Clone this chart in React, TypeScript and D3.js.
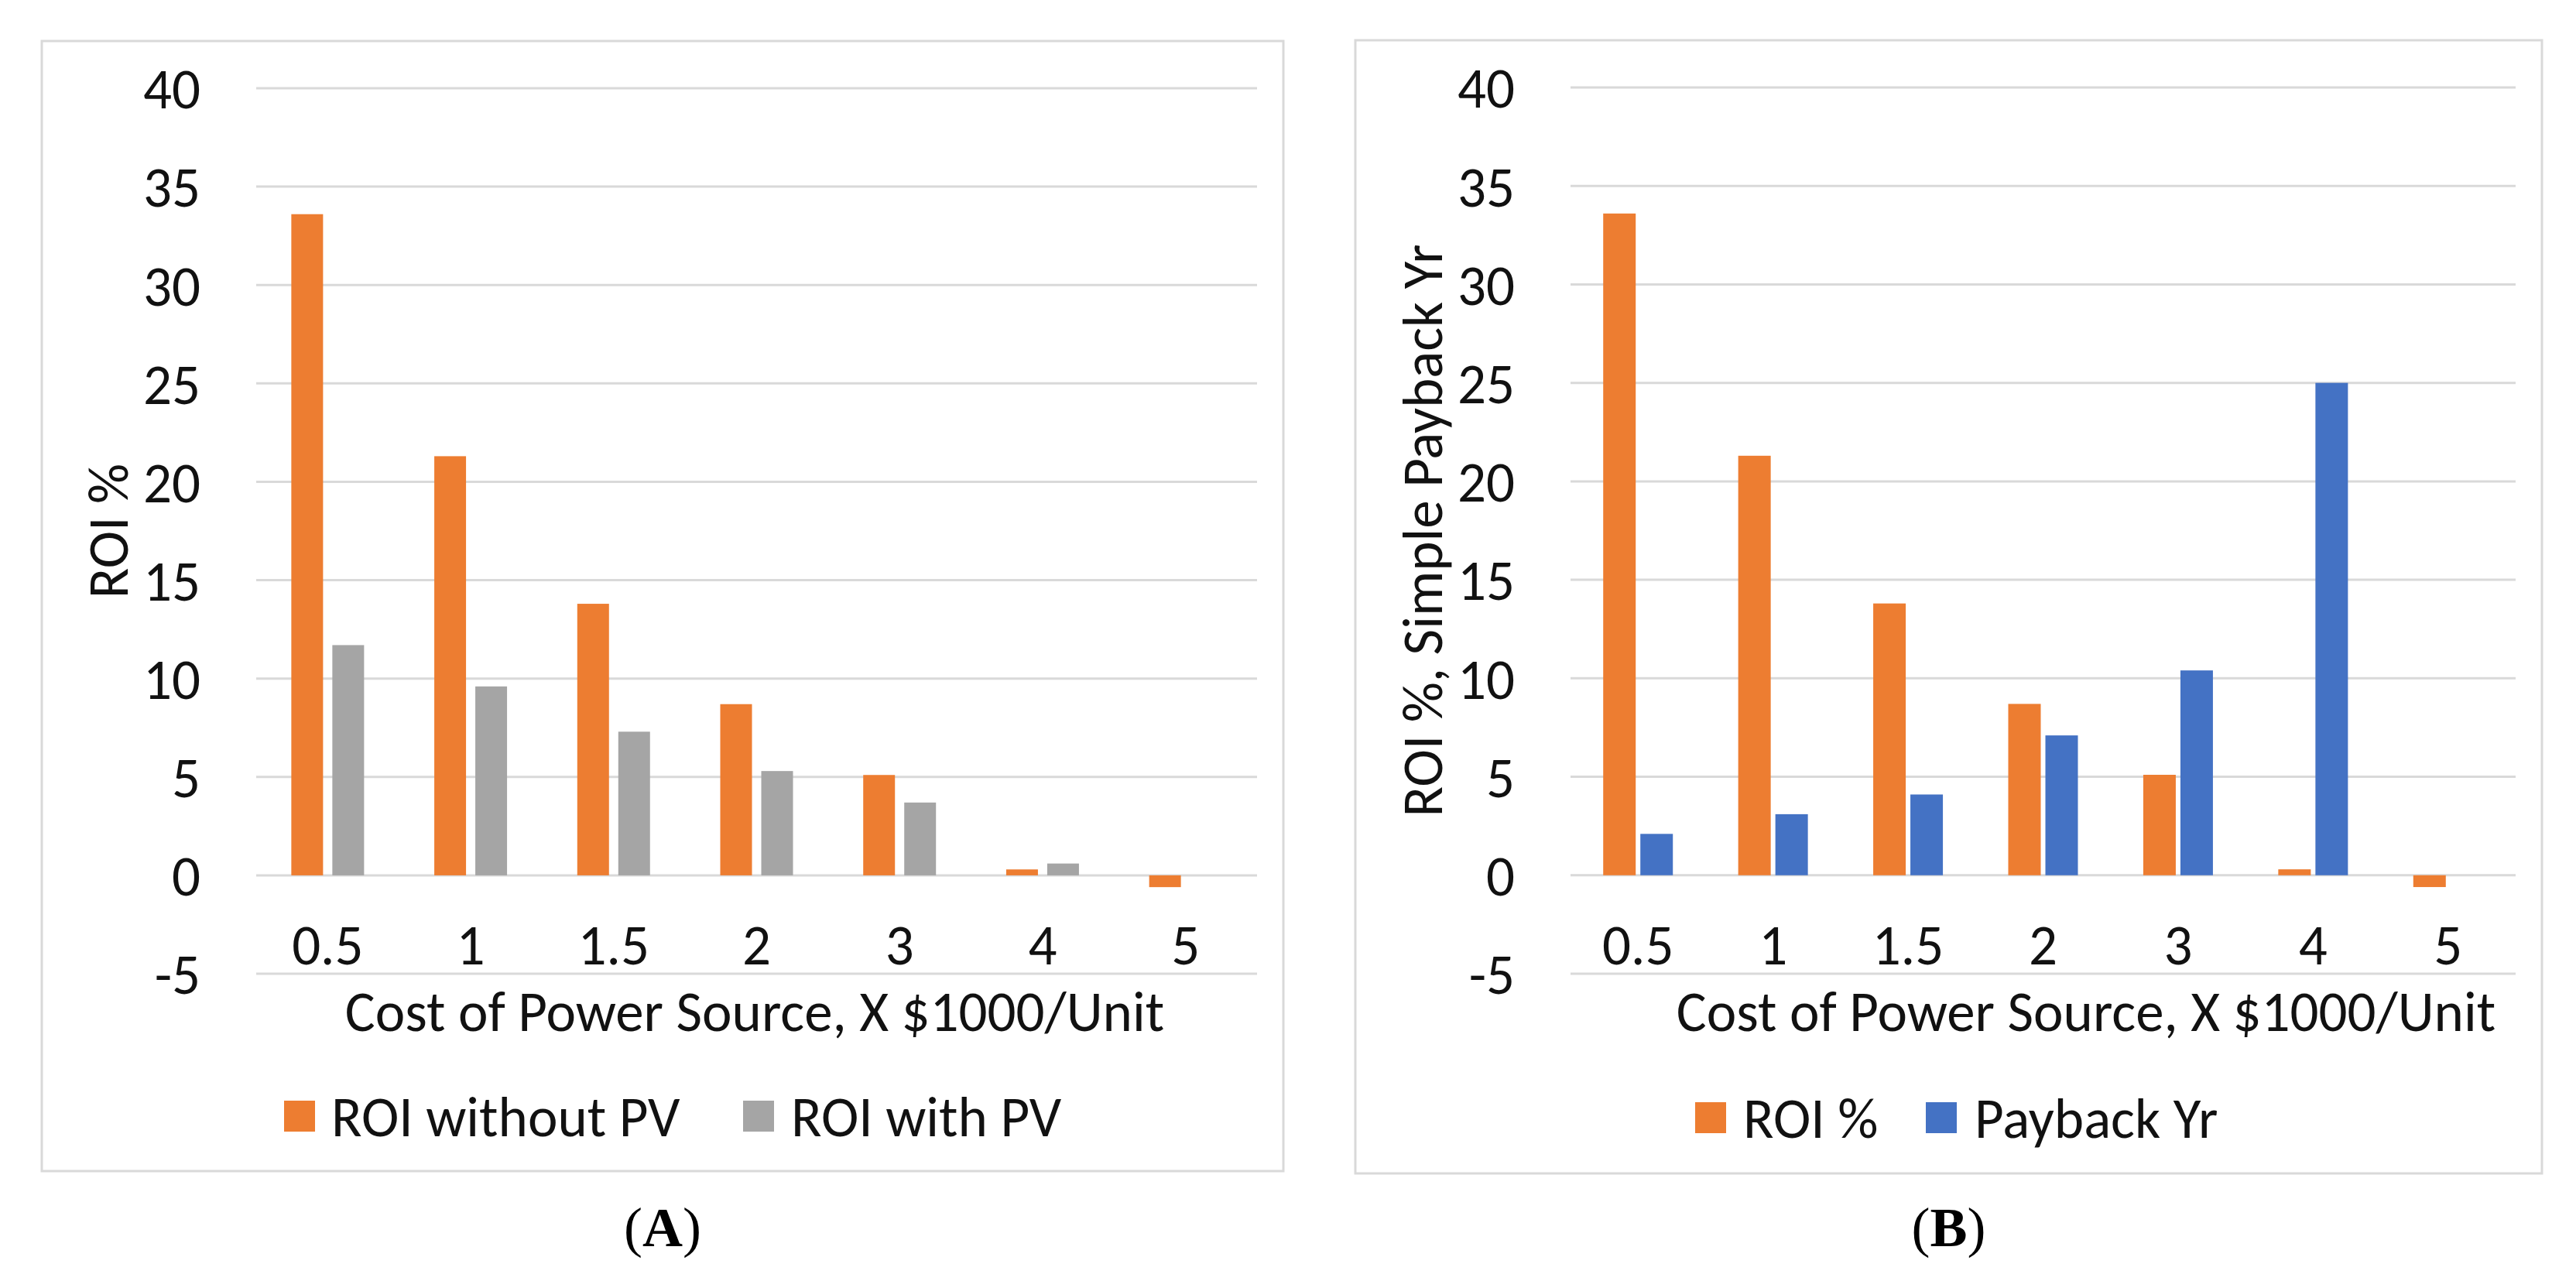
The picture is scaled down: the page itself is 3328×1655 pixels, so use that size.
import React from "react";
import * as d3 from "d3";

const categories = ["0.5", "1", "1.5", "2", "3", "4", "5"];
const roiWithoutPV = [33.6, 21.3, 13.8, 8.7, 5.1, 0.3, -0.6];
const roiWithPV: (number | null)[] = [11.7, 9.6, 7.3, 5.3, 3.7, 0.6, null];
const roiPercent = [33.6, 21.3, 13.8, 8.7, 5.1, 0.3, -0.6];
const paybackYr: (number | null)[] = [2.1, 3.1, 4.1, 7.1, 10.4, 25.0, null];
const yTicks = [-5, 0, 5, 10, 15, 20, 25, 30, 35, 40];

const ORANGE = "#ED7D31";
const GRAY = "#A5A5A5";
const BLUE = "#4472C4";
const GRID = "#D9D9D9";
const FONT = "Carlito, Calibri, Lato, sans-serif";
const FS = 73;

type PanelProps = {
  box: { x0: number; y0: number; x1: number; y1: number };
  plot: { left: number; right: number; top: number; bottom: number };
  barW: number;
  gap: number;
  s1: (number | null)[];
  s2: (number | null)[];
  c2: string;
  names: [string, string];
  yTitle: string;
  yTitleX: number;
  xTitleX: number;
  legend: { sq1: number; t1: number; sq2: number; t2: number; y: number };
  label: string;
};

function Panel(p: PanelProps) {
  const x = d3.scaleBand<string>().domain(categories).range([p.plot.left, p.plot.right]).paddingInner(0).paddingOuter(0);
  const y = d3.scaleLinear().domain([-5, 40]).range([p.plot.bottom, p.plot.top]);
  const bw = x.bandwidth();
  const groupW = p.barW * 2 + p.gap;
  const bars: JSX.Element[] = [];
  categories.forEach((c, i) => {
    const cx = (x(c) as number) + bw / 2;
    const x1 = cx - groupW / 2;
    const x2 = x1 + p.barW + p.gap;
    const v1 = p.s1[i];
    const v2 = p.s2[i];
    if (v1 !== null && v1 !== undefined) {
      bars.push(
        <rect key={"a" + i} x={x1} y={Math.min(y(v1), y(0))} width={p.barW} height={Math.abs(y(v1) - y(0))} fill={ORANGE} />
      );
    }
    if (v2 !== null && v2 !== undefined) {
      bars.push(
        <rect key={"b" + i} x={x2} y={Math.min(y(v2), y(0))} width={p.barW} height={Math.abs(y(v2) - y(0))} fill={p.c2} />
      );
    }
  });
  const midY = (p.plot.top + p.plot.bottom) / 2;
  return (
    <g>
      <rect x={p.box.x0} y={p.box.y0} width={p.box.x1 - p.box.x0} height={p.box.y1 - p.box.y0} fill="#fff" stroke={GRID} strokeWidth={3} />
      {yTicks.map((t) => (
        <g key={t}>
          <line x1={p.plot.left} x2={p.plot.right} y1={y(t)} y2={y(t)} stroke={GRID} strokeWidth={3} />
          <text x={p.plot.left - 72} y={y(t)} dy="0.36em" textAnchor="end" fontFamily={FONT} fontSize={FS} fill="#111">
            {t}
          </text>
        </g>
      ))}
      {bars}
      {categories.map((c) => (
        <text key={c} x={(x(c) as number) + bw / 2} y={1246} textAnchor="middle" fontFamily={FONT} fontSize={FS} fill="#111">
          {c}
        </text>
      ))}
      <text x={p.xTitleX} y={1332} textAnchor="middle" fontFamily={FONT} fontSize={FS} fill="#111">
        Cost of Power Source, X $1000/Unit
      </text>
      <text transform={`translate(${p.yTitleX},${midY}) rotate(-90)`} dy="0.36em" textAnchor="middle" fontFamily={FONT} fontSize={FS} fill="#111">
        {p.yTitle}
      </text>
      <rect x={p.legend.sq1} y={p.legend.y - 20} width={40} height={40} fill={ORANGE} />
      <text x={p.legend.t1} y={p.legend.y} dy="0.36em" fontFamily={FONT} fontSize={FS} fill="#111">
        {p.names[0]}
      </text>
      <rect x={p.legend.sq2} y={p.legend.y - 20} width={40} height={40} fill={p.c2} />
      <text x={p.legend.t2} y={p.legend.y} dy="0.36em" fontFamily={FONT} fontSize={FS} fill="#111">
        {p.names[1]}
      </text>
      <text x={(p.box.x0 + p.box.x1) / 2} y={1610} textAnchor="middle" fontFamily="'Liberation Serif', 'Times New Roman', serif" fontSize={72} fill="#000">
        (<tspan fontWeight="bold">{p.label}</tspan>)
      </text>
    </g>
  );
}

export default function App() {
  return (
    <svg width={3328} height={1655} style={{ position: "absolute", left: 0, top: 0, background: "#fff" }}>
      <rect x={0} y={0} width={3328} height={1655} fill="#fff" />
      <Panel
        box={{ x0: 54, y0: 53, x1: 1658, y1: 1513 }}
        plot={{ left: 331, right: 1624, top: 114, bottom: 1258 }}
        barW={41}
        gap={12}
        s1={roiWithoutPV}
        s2={roiWithPV}
        c2={GRAY}
        names={["ROI without PV", "ROI with PV"]}
        yTitle="ROI %"
        yTitleX={139}
        xTitleX={975}
        legend={{ sq1: 367, t1: 428, sq2: 960, t2: 1022, y: 1442 }}
        label="A"
      />
      <Panel
        box={{ x0: 1751, y0: 52, x1: 3284, y1: 1516 }}
        plot={{ left: 2029, right: 3250, top: 113, bottom: 1258 }}
        barW={42}
        gap={6}
        s1={roiPercent}
        s2={paybackYr}
        c2={BLUE}
        names={["ROI %", "Payback Yr"]}
        yTitle="ROI %, Simple Payback Yr"
        yTitleX={1837}
        xTitleX={2695}
        legend={{ sq1: 2190, t1: 2252, sq2: 2488, t2: 2551, y: 1444 }}
        label="B"
      />
    </svg>
  );
}
